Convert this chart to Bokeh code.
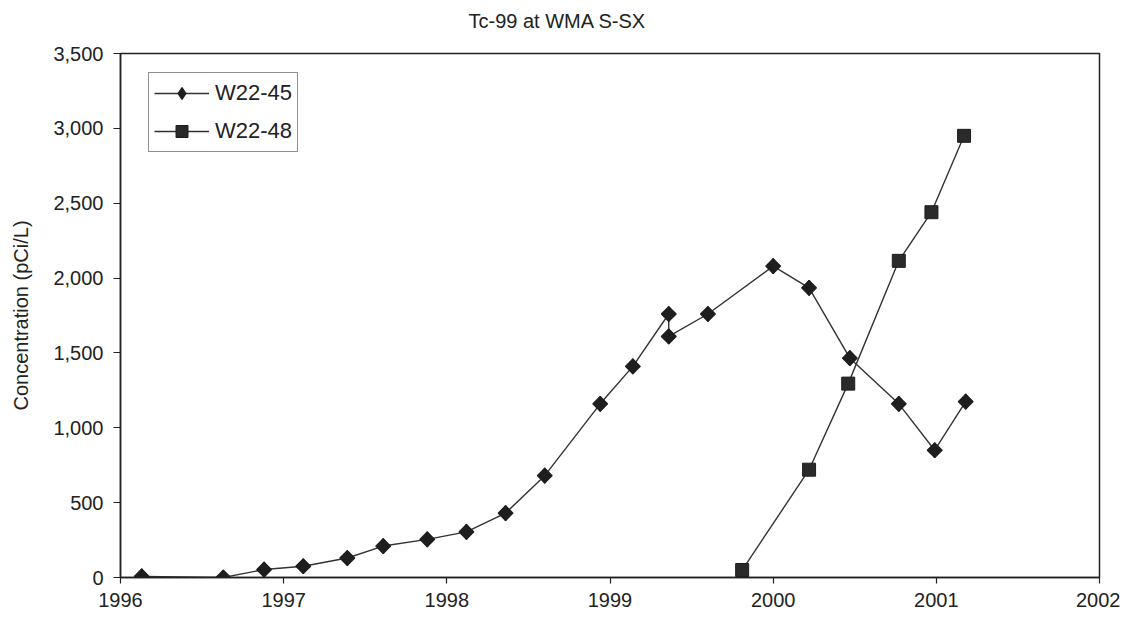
import math
from bokeh.plotting import figure
from bokeh.models import Range1d, FixedTicker, NumeralTickFormatter, Legend, LegendItem
from bokeh.embed import file_html
from bokeh.resources import INLINE

title_text = "Tc-99 at WMA S-SX"
y_label = "Concentration (pCi/L)"
x_ticks = [1996, 1997, 1998, 1999, 2000, 2001, 2002]
y_ticks = [0, 500, 1000, 1500, 2000, 2500, 3000, 3500]

w45_name = "W22-45"
w45_x = [1996.13, 1996.63, 1996.88, 1997.12, 1997.39, 1997.61, 1997.88, 1998.12,
         1998.36, 1998.60, 1998.94, 1999.14, 1999.36, 1999.36, 1999.60, 2000.00,
         2000.22, 2000.47, 2000.77, 2000.99, 2001.18]
w45_y = [7, 0, 53, 75, 130, 210, 255, 305, 430, 680, 1160, 1410, 1760, 1610, 1760,
         2080, 1935, 1465, 1160, 850, 1175]

w48_name = "W22-48"
w48_x = [1999.81, 2000.22, 2000.46, 2000.77, 2000.97, 2001.17]
w48_y = [50, 720, 1295, 2115, 2440, 2950]

FONT = "Liberation Sans"
TXT = "#222222"

p = figure(width=1120, height=615, output_backend="svg", toolbar_location=None,
           x_range=Range1d(1996, 2002), y_range=Range1d(0, 3500),
           min_border_left=120, min_border_right=21, min_border_top=53, min_border_bottom=38)

# trailing empty line lifts the title away from the frame
p.title.text = title_text + "\n "
p.title.align = "left"
p.title.offset = 348
p.title.standoff = 0
p.title.text_font = FONT
p.title.text_font_size = "20px"
p.title.text_font_style = "normal"
p.title.text_color = TXT

p.grid.visible = False
p.outline_line_color = "#222222"
p.outline_line_width = 1.5
p.background_fill_color = "white"
p.border_fill_color = "white"

p.xaxis.ticker = FixedTicker(ticks=x_ticks)
p.yaxis.ticker = FixedTicker(ticks=y_ticks)
p.yaxis.formatter = NumeralTickFormatter(format="0,0")
p.xaxis.formatter = NumeralTickFormatter(format="0")

for ax in (p.xaxis, p.yaxis):
    ax.axis_line_color = "#222222"
    ax.axis_line_width = 1.5
    ax.major_tick_line_color = "#222222"
    ax.major_tick_line_width = 1.2
    ax.major_tick_in = 0
    ax.minor_tick_line_color = None
    ax.major_label_text_font = FONT
    ax.major_label_text_font_size = "20px"
    ax.major_label_text_color = TXT
p.xaxis.major_tick_out = 6
p.yaxis.major_tick_out = 7
p.xaxis.major_label_standoff = 9
p.yaxis.major_label_standoff = 10

p.yaxis.axis_label = y_label
p.yaxis.axis_label_text_font = FONT
p.yaxis.axis_label_text_font_size = "20px"
p.yaxis.axis_label_text_font_style = "normal"
p.yaxis.axis_label_text_color = TXT
p.yaxis.axis_label_standoff = 18

l1 = p.line(w45_x, w45_y, line_color="#333333", line_width=1.4)
# diamond swatch for the legend; hidden under the rotated squares below
k1 = p.scatter(w45_x, w45_y, marker="diamond", size=15,
               fill_color="#1e1e1e", line_color="#1e1e1e", line_width=1.2)
m1 = p.scatter(w45_x, w45_y, marker="square", angle=math.pi / 4, size=10.5,
               fill_color="#1e1e1e", line_color="#1e1e1e", line_width=1.2)
l2 = p.line(w48_x, w48_y, line_color="#333333", line_width=1.4)
m2 = p.scatter(w48_x, w48_y, marker="square", size=13, fill_color="#2a2a2a",
               line_color="#1e1e1e", line_width=1)

legend = Legend(items=[LegendItem(label=w45_name, renderers=[l1, k1]),
                       LegendItem(label=w48_name, renderers=[l2, m2])],
                location=(28, 425), orientation="vertical")
legend.label_text_font = FONT
legend.label_text_font_size = "22px"
legend.label_text_color = TXT
legend.glyph_width = 55
legend.glyph_height = 30
legend.label_height = 22
legend.spacing = 8
legend.padding = 5
legend.margin = 0
legend.label_standoff = 6
legend.border_line_color = "#222222"
legend.border_line_width = 1.5
legend.background_fill_alpha = 1
p.add_layout(legend, "center")

open("out.html", "w").write(file_html(p, INLINE))
